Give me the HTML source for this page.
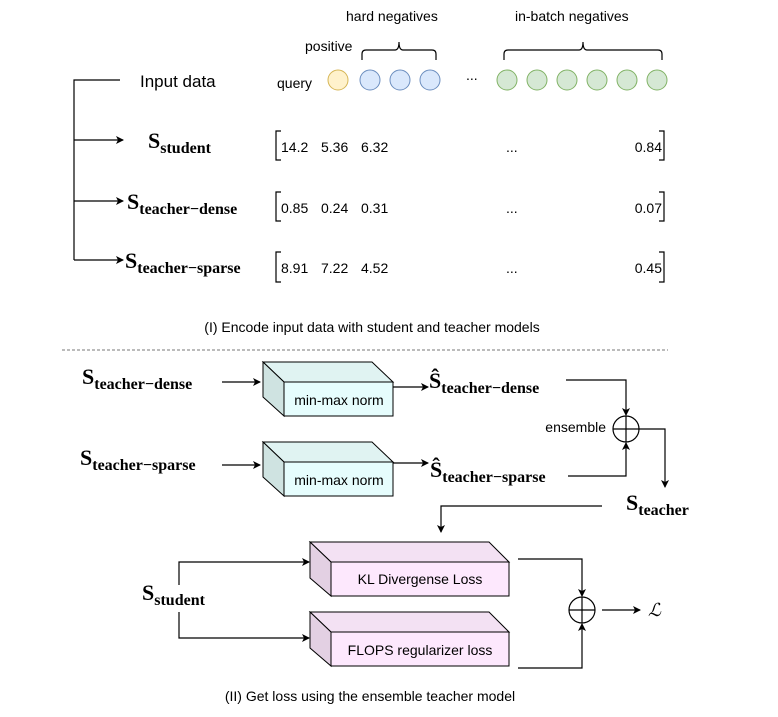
<!DOCTYPE html>
<html><head><meta charset="utf-8"><style>
html,body{margin:0;padding:0;background:#fff;}
svg text{font-family:"Liberation Sans",sans-serif;fill:#000;}
.m{font-family:"Liberation Serif",serif;font-weight:bold;}
</style></head><body>
<svg width="778" height="712" viewBox="0 0 778 712" xmlns="http://www.w3.org/2000/svg">
<defs>
<marker id="a" markerWidth="8" markerHeight="8" refX="7" refY="4" orient="auto" markerUnits="userSpaceOnUse">
<path d="M0,0 L8,4 L0,8 L2,4 z" fill="#000"/></marker>
</defs>
<g stroke="#000" stroke-width="1.2" fill="none">
<path d="M362,60 V54 Q362,50 366,50 H395 Q399,50 399,42 Q399,50 403,50 H432 Q436,50 436,54 V60"/>
<path d="M504,60 V54 Q504,50 508,50 H579 Q583,50 583,42 Q583,50 587,50 H658 Q662,50 662,54 V60"/>
<path d="M120,80 H74 V260"/>
<path d="M74,140 H123" marker-end="url(#a)"/>
<path d="M74,201 H123" marker-end="url(#a)"/>
<path d="M74,260 H123" marker-end="url(#a)"/>
<path d="M281,131 H276 V160 H281"/><path d="M659,131 H664 V160 H659"/>
<path d="M281,192 H276 V221 H281"/><path d="M659,192 H664 V221 H659"/>
<path d="M281,252 H276 V282 H281"/><path d="M659,252 H664 V282 H659"/>
</g>
<circle cx="338" cy="80" r="10" fill="#fff2cc" stroke="#d6b656"/>
<circle cx="370" cy="80" r="10" fill="#dae8fc" stroke="#6c8ebf"/>
<circle cx="400" cy="80" r="10" fill="#dae8fc" stroke="#6c8ebf"/>
<circle cx="430" cy="80" r="10" fill="#dae8fc" stroke="#6c8ebf"/>
<g fill="#d5e8d4" stroke="#82b366">
<circle cx="507" cy="80" r="10"/><circle cx="537" cy="80" r="10"/><circle cx="567" cy="80" r="10"/>
<circle cx="597" cy="80" r="10"/><circle cx="627" cy="80" r="10"/><circle cx="657" cy="80" r="10"/>
</g>
<text x="346" y="21" font-size="14">hard negatives</text>
<text x="515" y="21" font-size="14">in-batch negatives</text>
<text x="305" y="51" font-size="14">positive</text>
<text x="140" y="87" font-size="17">Input data</text>
<text x="277" y="88" font-size="14">query</text>
<text x="466" y="80" font-size="14">...</text>
<text x="148" y="148" class="m" font-size="22">S<tspan font-size="16" dy="5">student</tspan></text>
<text x="127" y="209" class="m" font-size="22">S<tspan font-size="16" dy="5">teacher−dense</tspan></text>
<text x="125" y="268" class="m" font-size="22">S<tspan font-size="16" dy="5">teacher−sparse</tspan></text>
<g font-size="14">
<text x="281" y="152">14.2</text><text x="321" y="152">5.36</text><text x="361" y="152">6.32</text><text x="506" y="152">...</text><text x="662" y="152" text-anchor="end">0.84</text>
<text x="281" y="213">0.85</text><text x="321" y="213">0.24</text><text x="361" y="213">0.31</text><text x="506" y="213">...</text><text x="662" y="213" text-anchor="end">0.07</text>
<text x="281" y="273">8.91</text><text x="321" y="273">7.22</text><text x="361" y="273">4.52</text><text x="506" y="273">...</text><text x="662" y="273" text-anchor="end">0.45</text>
</g>
<text x="372" y="332" font-size="14" text-anchor="middle">(I) Encode input data with student and teacher models</text>
<line x1="62" y1="350" x2="668" y2="350" stroke="#777" stroke-dasharray="3,2"/>
<g stroke="#000" stroke-width="1">
<polygon points="263,362 372,362 393,382 284,382" fill="#e0f3f2"/>
<polygon points="263,362 284,382 284,416 263,397" fill="#cfe3e1"/>
<rect x="284" y="382" width="109" height="34" fill="#e6fdfd"/>
<polygon points="263,442 372,442 393,462 284,462" fill="#e0f3f2"/>
<polygon points="263,442 284,462 284,496 263,477" fill="#cfe3e1"/>
<rect x="284" y="462" width="109" height="34" fill="#e6fdfd"/>
<polygon points="310,542 489,542 509,562 331,562" fill="#f3e1f3"/>
<polygon points="310,542 331,562 331,596 310,578" fill="#e3d0e3"/>
<rect x="331" y="562" width="178" height="34" fill="#fde8fd"/>
<polygon points="310,612 489,612 509,632 331,632" fill="#f3e1f3"/>
<polygon points="310,612 331,632 331,666 310,648" fill="#e3d0e3"/>
<rect x="331" y="632" width="178" height="34" fill="#fde8fd"/>
</g>
<text x="339" y="405" font-size="14" text-anchor="middle">min-max norm</text>
<text x="339" y="485" font-size="14" text-anchor="middle">min-max norm</text>
<text x="420" y="584" font-size="14" text-anchor="middle">KL Divergense Loss</text>
<text x="420" y="655" font-size="14" text-anchor="middle">FLOPS regularizer loss</text>
<g stroke="#000" stroke-width="1.2" fill="none">
<path d="M222,382 H260" marker-end="url(#a)"/>
<path d="M222,465 H260" marker-end="url(#a)"/>
<path d="M393,387 H428" marker-end="url(#a)"/>
<path d="M393,463 H428" marker-end="url(#a)"/>
<path d="M566,380 H626 V415" marker-end="url(#a)"/>
<path d="M568,476 H626 V443" marker-end="url(#a)"/>
<circle cx="626" cy="429" r="13"/>
<path d="M613,429 H639 M626,416 V442"/>
<path d="M639,429 H665 V487" marker-end="url(#a)"/>
<path d="M602,506 H441 V532" marker-end="url(#a)"/>
<path d="M179,585 V562 H309" marker-end="url(#a)"/>
<path d="M179,612 V638 H309" marker-end="url(#a)"/>
<path d="M518,559 H582 V596" marker-end="url(#a)"/>
<path d="M518,668 H582 V624" marker-end="url(#a)"/>
<circle cx="582" cy="610" r="13"/>
<path d="M569,610 H595 M582,597 V623"/>
<path d="M602,610 H640" marker-end="url(#a)"/>
</g>
<text x="82" y="384" class="m" font-size="22">S<tspan font-size="16" dy="5">teacher−dense</tspan></text>
<text x="80" y="465" class="m" font-size="22">S<tspan font-size="16" dy="5">teacher−sparse</tspan></text>
<text x="429" y="388" class="m" font-size="22">Ŝ<tspan font-size="16" dy="5">teacher−dense</tspan></text>
<text x="430" y="477" class="m" font-size="22">Ŝ<tspan font-size="16" dy="5">teacher−sparse</tspan></text>
<text x="606" y="432" font-size="14" text-anchor="end">ensemble</text>
<text x="626" y="510" class="m" font-size="22">S<tspan font-size="16" dy="5">teacher</tspan></text>
<text x="142" y="600" class="m" font-size="22">S<tspan font-size="16" dy="5">student</tspan></text>
<text x="648" y="616" font-size="18" font-style="italic" font-family="Liberation Serif,serif">ℒ</text>
<text x="370" y="701" font-size="14" text-anchor="middle">(II) Get loss using the ensemble teacher model</text>
</svg>
</body></html>
